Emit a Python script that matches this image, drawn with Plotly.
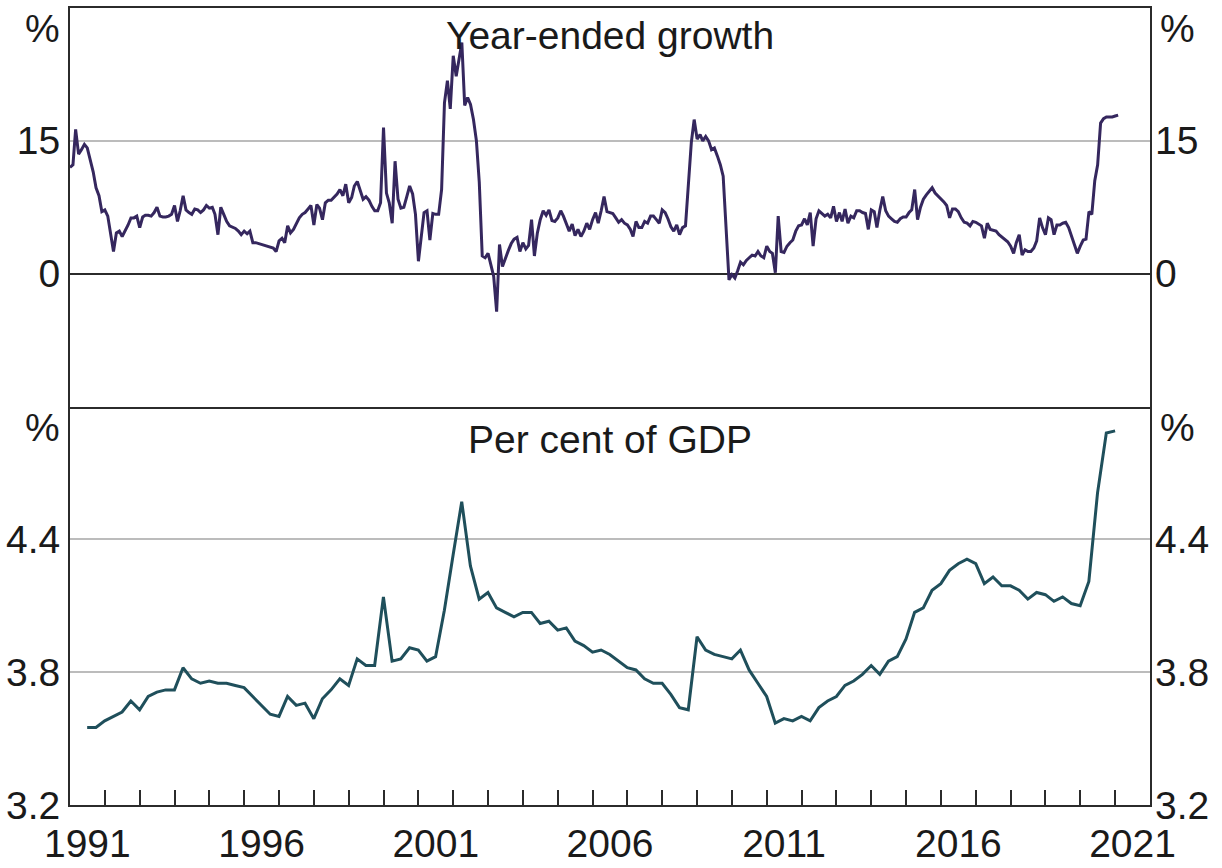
import pandas as pd
import plotly.graph_objects as go

# Year-ended growth, monthly, one row per year (1991 .. Feb 2021), per cent
growth_rows = [
    [12.0, 12.3, 16.3, 13.5, 14.0, 14.6, 14.2, 13.0, 11.5, 9.7, 8.8, 7.0],   # 1991
    [7.2, 6.5, 4.6, 2.5, 4.6, 4.8, 4.2, 4.8, 5.5, 6.3, 6.3, 6.5],            # 1992
    [5.2, 6.4, 6.6, 6.6, 6.5, 6.9, 7.5, 6.5, 6.4, 6.4, 6.5, 6.7],            # 1993
    [7.7, 5.9, 7.1, 8.8, 7.2, 6.9, 6.7, 7.3, 7.2, 6.9, 7.2, 7.7],            # 1994
    [7.4, 7.5, 6.7, 4.4, 7.5, 6.7, 5.9, 5.4, 5.2, 5.1, 4.8, 4.4],            # 1995
    [4.8, 4.5, 4.8, 3.5, 3.5, 3.4, 3.3, 3.2, 3.1, 3.0, 2.9, 2.5],            # 1996
    [3.7, 4.0, 3.5, 5.4, 4.6, 5.0, 5.7, 6.3, 6.7, 6.9, 7.3, 7.7],            # 1997
    [5.5, 7.8, 7.4, 6.1, 8.0, 8.3, 8.3, 8.6, 9.0, 9.5, 8.8, 10.1],           # 1998
    [8.0, 8.6, 9.9, 10.4, 9.3, 8.4, 8.7, 8.3, 7.6, 7.1, 7.1, 8.0],           # 1999
    [16.5, 9.1, 8.0, 5.7, 12.7, 8.4, 7.4, 7.5, 8.7, 9.9, 9.0, 6.7],          # 2000
    [1.4, 4.6, 6.9, 7.1, 3.8, 6.8, 6.7, 6.7, 9.5, 19.3, 21.8, 18.6],         # 2001
    [24.6, 22.3, 24.2, 26.1, 19.0, 19.9, 19.1, 17.4, 15.0, 10.3, 2.0, 1.8],  # 2002
    [2.3, 0.8, -0.3, -4.3, 3.3, 0.8, 1.8, 2.6, 3.4, 3.9, 4.1, 2.5],          # 2003
    [3.5, 2.8, 3.2, 6.1, 2.0, 4.6, 6.1, 7.1, 6.6, 7.2, 6.0, 5.9],            # 2004
    [6.3, 7.1, 6.5, 5.7, 4.8, 5.6, 4.3, 5.0, 4.2, 4.8, 5.7, 5.0],            # 2005
    [6.1, 6.9, 5.7, 7.1, 8.7, 7.0, 6.9, 6.8, 6.3, 5.8, 6.1, 5.7],            # 2006
    [5.5, 5.0, 4.2, 5.9, 5.2, 5.2, 5.9, 5.7, 6.5, 6.5, 6.1, 5.7],            # 2007
    [7.2, 6.9, 6.2, 5.3, 4.8, 5.5, 4.4, 5.2, 5.4, 10.3, 14.8, 17.4],         # 2008
    [15.2, 15.7, 15.0, 15.5, 15.0, 14.0, 14.2, 13.3, 12.3, 11.0, 4.5, -0.7], # 2009
    [-0.1, -0.5, 0.3, 1.3, 1.0, 1.5, 1.8, 2.1, 2.0, 2.5, 2.0, 1.8],          # 2010
    [3.1, 2.5, 2.3, 0.1, 6.5, 2.5, 2.4, 3.1, 3.5, 3.8, 4.8, 5.4],            # 2011
    [5.5, 6.2, 5.5, 6.9, 3.1, 6.2, 7.1, 6.8, 6.5, 6.7, 6.3, 7.6],            # 2012
    [5.9, 6.9, 5.9, 7.3, 5.7, 6.5, 6.3, 7.1, 7.1, 6.9, 6.8, 5.0],            # 2013
    [7.2, 7.0, 5.2, 7.2, 8.7, 7.1, 6.5, 6.2, 5.9, 5.8, 6.2, 6.4],            # 2014
    [6.4, 6.9, 7.2, 9.5, 6.1, 7.5, 8.4, 8.9, 9.3, 9.7, 9.1, 8.8],            # 2015
    [8.5, 8.1, 7.7, 6.3, 7.3, 7.3, 7.0, 6.3, 5.8, 5.7, 5.4, 5.9],            # 2016
    [5.8, 5.6, 5.4, 4.0, 5.7, 5.0, 4.9, 4.8, 4.4, 4.1, 3.8, 3.6],            # 2017
    [3.1, 2.3, 3.5, 4.4, 2.1, 2.7, 2.5, 2.5, 2.9, 3.7, 6.3, 5.2],            # 2018
    [4.4, 6.3, 6.1, 4.4, 5.5, 5.5, 5.7, 5.8, 5.2, 4.2, 3.1, 2.3],            # 2019
    [3.1, 3.8, 3.9, 7.0, 6.7, 10.5, 12.3, 17.0, 17.5, 17.7, 17.7, 17.7],     # 2020
    [17.8, 17.9],                                                            # 2021
]
growth = [v for row in growth_rows for v in row]
growth_dates = pd.date_range("1991-01-01", periods=len(growth), freq="MS")

# Level as a share of GDP, quarterly (Jun 1991 .. Dec 2020), per cent
gdp_share_rows = [
    [3.55, 3.55, 3.58],          # 1991 Q2-Q4
    [3.60, 3.62, 3.67, 3.63],    # 1992
    [3.69, 3.71, 3.72, 3.72],    # 1993
    [3.82, 3.77, 3.75, 3.76],    # 1994
    [3.75, 3.75, 3.74, 3.73],    # 1995
    [3.69, 3.65, 3.61, 3.60],    # 1996
    [3.69, 3.65, 3.66, 3.59],    # 1997
    [3.68, 3.72, 3.77, 3.74],    # 1998
    [3.86, 3.83, 3.83, 4.14],    # 1999
    [3.85, 3.86, 3.91, 3.90],    # 2000
    [3.85, 3.87, 4.08, 4.33],    # 2001
    [4.57, 4.28, 4.13, 4.16],    # 2002
    [4.09, 4.07, 4.05, 4.07],    # 2003
    [4.07, 4.02, 4.03, 3.99],    # 2004
    [4.00, 3.94, 3.92, 3.89],    # 2005
    [3.90, 3.88, 3.85, 3.82],    # 2006
    [3.81, 3.77, 3.75, 3.75],    # 2007
    [3.70, 3.64, 3.63, 3.96],    # 2008
    [3.90, 3.88, 3.87, 3.86],    # 2009
    [3.90, 3.81, 3.75, 3.69],    # 2010
    [3.57, 3.59, 3.58, 3.60],    # 2011
    [3.58, 3.64, 3.67, 3.69],    # 2012
    [3.74, 3.76, 3.79, 3.83],    # 2013
    [3.79, 3.85, 3.87, 3.95],    # 2014
    [4.07, 4.09, 4.17, 4.20],    # 2015
    [4.26, 4.29, 4.31, 4.29],    # 2016
    [4.20, 4.23, 4.19, 4.19],    # 2017
    [4.17, 4.13, 4.16, 4.15],    # 2018
    [4.12, 4.14, 4.11, 4.10],    # 2019
    [4.21, 4.61, 4.88, 4.89],    # 2020
]
gdp_share = [v for row in gdp_share_rows for v in row]
gdp_dates = pd.date_range("1991-06-30", periods=len(gdp_share), freq="QE")

# Axis labelling
label_years = [1991, 1996, 2001, 2006, 2011, 2016, 2021]
boundary_years = list(range(1992, 2022))
top_ticks = [0, 15]
bottom_ticks = [3.2, 3.8, 4.4]

FONT = "Liberation Sans, Arial, sans-serif"
TEXT = "#1a1a1a"
AXIS = "#2b2b2b"
GRID = "#bcbcbc"
SIZE = 39

fig = go.Figure()
fig.add_trace(go.Scatter(x=growth_dates, y=growth, mode="lines",
                         line=dict(color="#35275e", width=3),
                         xaxis="x2", yaxis="y2", showlegend=False))
fig.add_trace(go.Scatter(x=gdp_dates, y=gdp_share, mode="lines",
                         line=dict(color="#1f4f5b", width=3),
                         xaxis="x", yaxis="y", showlegend=False))
# Transparent copies so the right-hand axes get drawn with their labels
fig.add_trace(go.Scatter(x=growth_dates, y=growth, mode="lines", opacity=0,
                         hoverinfo="skip", xaxis="x2", yaxis="y4", showlegend=False))
fig.add_trace(go.Scatter(x=gdp_dates, y=gdp_share, mode="lines", opacity=0,
                         hoverinfo="skip", xaxis="x", yaxis="y3", showlegend=False))

xrange = ["1991-01-01", "2022-01-01"]
tick_font = dict(family=FONT, size=SIZE, color=TEXT)

fig.update_layout(
    width=1222, height=868,
    margin=dict(l=70, r=72, t=8, b=63, autoexpand=False),
    paper_bgcolor="white", plot_bgcolor="white",
    font=dict(family=FONT, size=SIZE, color=TEXT),
    xaxis=dict(
        domain=[0, 1], anchor="y", range=xrange, type="date", automargin=False,
        tickmode="array",
        tickvals=[f"{y}-07-02" for y in label_years],
        ticktext=[str(y) for y in label_years],
        ticks="", showgrid=False, zeroline=False, ticklabelstandoff=3,
        showline=True, linecolor=AXIS, linewidth=2, mirror=False,
        tickfont=tick_font,
        minor=dict(tickmode="array",
                   tickvals=[f"{y}-01-01" for y in boundary_years],
                   ticks="inside", ticklen=15, tickwidth=2, tickcolor=AXIS,
                   showgrid=False),
    ),
    xaxis2=dict(
        domain=[0, 1], anchor="y2", range=xrange, type="date", matches="x",
        automargin=False,
        showticklabels=False, ticks="", showgrid=False, zeroline=False,
        showline=True, linecolor=AXIS, linewidth=2, mirror=True,
    ),
    yaxis=dict(
        domain=[0, 0.5], anchor="x", range=[3.2, 5.0], automargin=False,
        tickmode="array", tickvals=bottom_ticks, ticktext=[f"{v:.1f}" for v in bottom_ticks],
        showgrid=True, gridcolor=GRID, gridwidth=1.5, zeroline=False,
        showline=True, linecolor=AXIS, linewidth=2, mirror=True,
        ticks="", tickfont=tick_font, ticklabelstandoff=0,
    ),
    yaxis3=dict(
        anchor="x", overlaying="y", side="right", range=[3.2, 5.0], automargin=False,
        tickmode="array", tickvals=bottom_ticks, ticktext=[f"{v:.1f}" for v in bottom_ticks],
        showgrid=False, zeroline=False, showline=False, ticks="", tickfont=tick_font,
        ticklabelstandoff=4,
    ),
    yaxis2=dict(
        domain=[0.5, 1], anchor="x2", range=[-15, 30], automargin=False,
        tickmode="array", tickvals=top_ticks, ticktext=[str(v) for v in top_ticks],
        showgrid=True, gridcolor=GRID, gridwidth=1.5,
        zeroline=True, zerolinecolor=AXIS, zerolinewidth=2,
        showline=True, linecolor=AXIS, linewidth=2, mirror=True,
        ticks="", tickfont=tick_font, ticklabelstandoff=0,
    ),
    yaxis4=dict(
        anchor="x2", overlaying="y2", side="right", range=[-15, 30], automargin=False,
        tickmode="array", tickvals=top_ticks, ticktext=[str(v) for v in top_ticks],
        showgrid=False, zeroline=False, showline=False, ticks="", tickfont=tick_font,
        ticklabelstandoff=4,
    ),
)

# Panel titles and unit markers
notes = [
    dict(text="Year-ended growth", x=0.5, y=0.966, xanchor="center"),
    dict(text="Per cent of GDP", x=0.5, y=0.458, xanchor="center"),
    dict(text="%", x=-0.007, y=0.974, xanchor="right"),
    dict(text="%", x=1.007, y=0.974, xanchor="left"),
    dict(text="%", x=-0.007, y=0.474, xanchor="right"),
    dict(text="%", x=1.007, y=0.474, xanchor="left"),
]
for n in notes:
    fig.add_annotation(xref="paper", yref="paper", yanchor="middle", showarrow=False,
                       font=dict(family=FONT, size=SIZE, color=TEXT), **n)

fig.write_html("out.html")
